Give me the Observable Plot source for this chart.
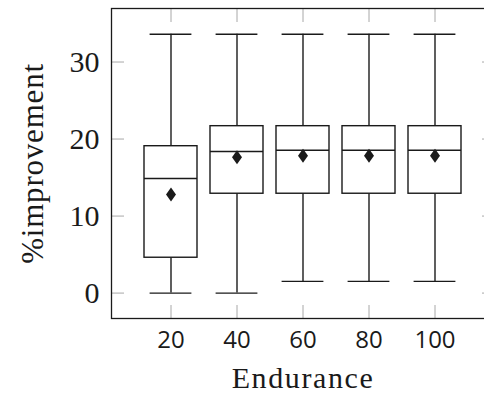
<!DOCTYPE html>
<html>
<head>
<meta charset="utf-8">
<script src="https://cdn.jsdelivr.net/npm/d3@7"></script>
<script src="https://cdn.jsdelivr.net/npm/@observablehq/plot@0.6"></script>
<style>
  html, body { margin: 0; padding: 0; background: #fff; overflow: hidden; }
  #chart { width: 484px; height: 393px; overflow: hidden; }
  #chart svg { display: block; max-width: none !important; width: 494px !important; height: 393px !important; }
</style>
</head>
<body>
<div id="chart"></div>
<script>
const categories = [20, 40, 60, 80, 100];
const whiskerLow = [0, 0, 1.52, 1.52, 1.52];
const q1 = [4.59, 12.9, 12.9, 12.9, 12.9];
const median = [14.88, 18.39, 18.55, 18.55, 18.55];
const q3 = [19.07, 21.67, 21.67, 21.67, 21.67];
const whiskerHigh = [33.6, 33.6, 33.6, 33.6, 33.6];
const mean = [12.8, 17.65, 17.83, 17.83, 17.83];
const yTicks = [0, 10, 20, 30];
const xLabel = "Endurance";
const yLabel = "%improvement";

const data = categories.map((c, i) => ({
  cat: c, lo: whiskerLow[i], q1: q1[i], med: median[i], q3: q3[i], hi: whiskerHigh[i], mean: mean[i]
}));

const tallDiamond = {
  draw(ctx, size) {
    const r = Math.sqrt(size / Math.PI);
    const w = r * 5 / 7;
    ctx.moveTo(0, -r);
    ctx.lineTo(w, 0);
    ctx.lineTo(0, r);
    ctx.lineTo(-w, 0);
    ctx.closePath();
  }
};

const ink = "#1a1a1a";
const tickGray = "#a8a8a8";
const serif = "'Liberation Serif', 'DejaVu Serif', serif";
const sans = "'Open Sans', 'Liberation Sans', sans-serif";
const sw = 1.4;
const capInset = 5.6;

const chart = Plot.plot({
  width: 494,
  height: 393,
  marginLeft: 111,
  marginRight: 0,
  marginTop: 8,
  marginBottom: 75,
  style: { background: "#fff", color: ink, maxWidth: "none" },
  x: { type: "band", domain: categories, paddingInner: 0.197, paddingOuter: 0.482 },
  y: { domain: [-3.3, 36.95] },
  marks: [
    Plot.axisY(yTicks, { anchor: "left", tickSize: 13, insetLeft: 13, tickFormat: () => "", label: null, stroke: tickGray, strokeWidth: 1 }),
    Plot.axisY(yTicks, { anchor: "right", tickSize: 13, insetRight: 13, tickFormat: () => "", label: null, stroke: tickGray, strokeWidth: 1 }),
    Plot.axisX({ anchor: "top", tickSize: 13, insetTop: 13, tickFormat: () => "", label: null, stroke: tickGray, strokeWidth: 1 }),
    Plot.axisX({ anchor: "bottom", tickSize: 13, insetBottom: 13, tickFormat: () => "", label: null, stroke: tickGray, strokeWidth: 1 }),
    Plot.axisY(yTicks, { anchor: "left", tickSize: 0, tickPadding: 12, label: null, fontFamily: serif, fontSize: 30, fill: ink }),
    Plot.axisX({ anchor: "bottom", tickSize: 0, tickPadding: 12, label: null, fontFamily: sans, fontSize: 24, fill: ink }),
    Plot.ruleX(data, { x: "cat", y1: "lo", y2: "q1", stroke: ink, strokeWidth: sw }),
    Plot.ruleX(data, { x: "cat", y1: "q3", y2: "hi", stroke: ink, strokeWidth: sw }),
    Plot.tickY(data, { x: "cat", y: "lo", insetLeft: capInset, insetRight: capInset, stroke: ink, strokeWidth: sw }),
    Plot.tickY(data, { x: "cat", y: "hi", insetLeft: capInset, insetRight: capInset, stroke: ink, strokeWidth: sw }),
    Plot.barY(data, { x: "cat", y1: "q1", y2: "q3", fill: "#fff", stroke: ink, strokeWidth: sw }),
    Plot.tickY(data, { x: "cat", y: "med", stroke: ink, strokeWidth: sw }),
    Plot.dot(data, { x: "cat", y: "mean", symbol: tallDiamond, r: 7, fill: ink, stroke: "none" }),
    Plot.frame({ stroke: ink, strokeWidth: 1.3 }),
    Plot.text([yLabel], { frameAnchor: "left", textAnchor: "middle", rotate: -90, dx: -69, lineAnchor: "bottom", fontFamily: serif, fontSize: 31, fill: ink }),
    Plot.text([xLabel], { frameAnchor: "bottom", textAnchor: "middle", dy: 69, lineAnchor: "bottom", fontFamily: serif, fontSize: 30, fill: ink })
  ]
});
d3.select(chart).selectAll('g[aria-label="text"] text').each(function () {
  const t = this.textContent;
  if (t === yLabel) this.style.letterSpacing = "0.8px";
  if (t === xLabel) this.style.letterSpacing = "1.6px";
});
document.getElementById("chart").appendChild(chart);
</script>
</body>
</html>
